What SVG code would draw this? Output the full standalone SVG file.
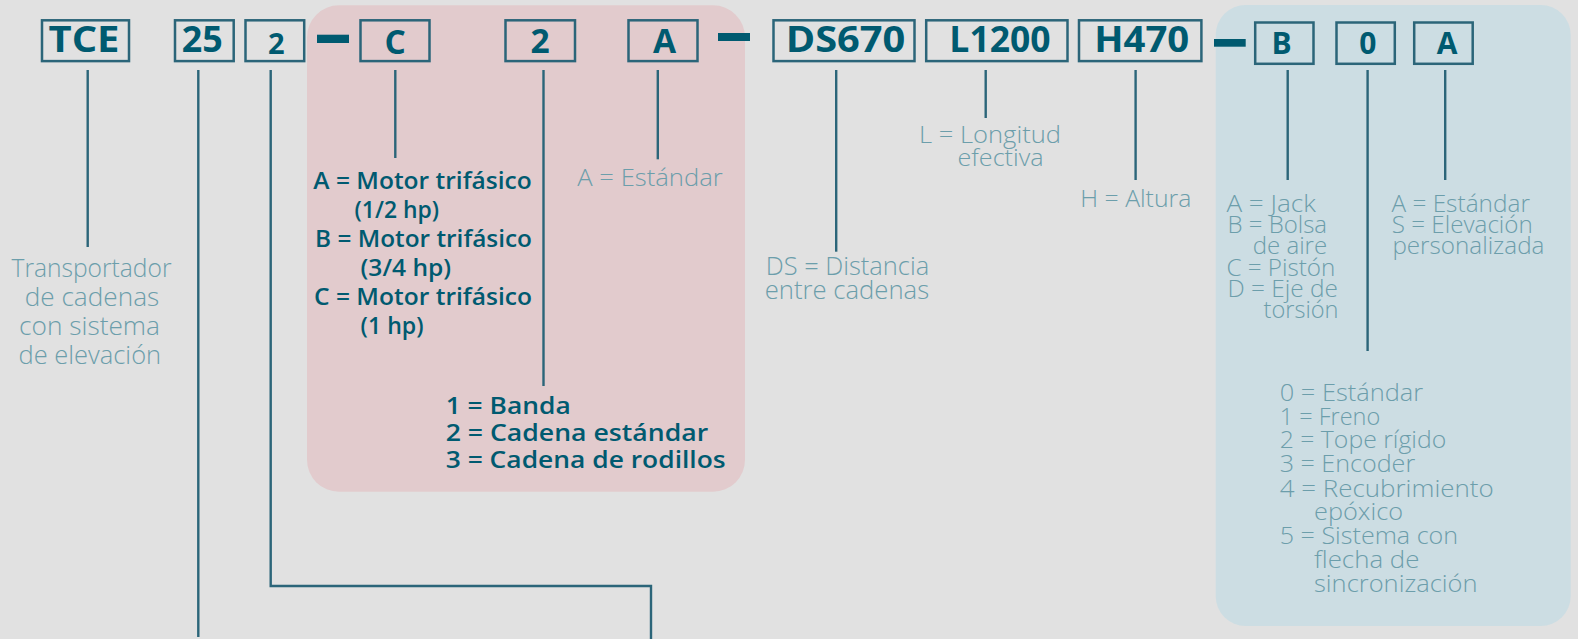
<svg xmlns="http://www.w3.org/2000/svg" width="1578" height="639" viewBox="0 0 1578 639">
<style>
.box{fill:none;stroke:#2b6579;stroke-width:2.5}
.lbl{font-family:"Open Sans","Liberation Sans",sans-serif;font-weight:700;fill:#005a70;text-anchor:middle}
.ln{fill:none;stroke:#2b6579;stroke-width:2.4}
.dash{fill:#005a70}
.lt{font-family:"Open Sans","Liberation Sans",sans-serif;font-weight:300;fill:#6c9eab;font-size:24px}
.bd{font-family:"Open Sans","Liberation Sans",sans-serif;font-weight:600;fill:#005a70;font-size:22.5px}
</style>
<rect width="1578" height="639" fill="#e1e1e1"/>
<rect id="pink-region" x="307" y="5.3" width="438" height="486.5" rx="32" fill="#e2cbcd"/>
<rect id="blue-region" x="1215.7" y="5" width="355" height="621" rx="30" fill="#ccdde3"/>

<g id="connectors">
<path class="ln" d="M87.7,70V247"/>
<path class="ln" d="M198.3,70V637"/>
<path class="ln" d="M270.7,70V586H651V639"/>
<path class="ln" d="M395.3,70V158"/>
<path class="ln" d="M543.5,70V386"/>
<path class="ln" d="M657.8,70V159.3"/>
<path class="ln" d="M836.2,70V251.7"/>
<path class="ln" d="M985.7,70V118"/>
<path class="ln" d="M1135.6,70V180"/>
<path class="ln" d="M1287.7,70V180"/>
<path class="ln" d="M1367.6,70V351"/>
<path class="ln" d="M1445.2,70V180"/>
</g>

<g id="dashes">
<rect class="dash" x="317" y="34.7" width="32" height="8.3"/>
<rect class="dash" x="718" y="33" width="32" height="8"/>
<rect class="dash" x="1214" y="39" width="31.7" height="7.7"/>
</g>

<g id="node-tce">
<rect class="box" x="42" y="20.3" width="87" height="40.8"/>
<text class="lbl" x="84" y="52.3" font-size="36" textLength="71" lengthAdjust="spacingAndGlyphs">TCE</text>
</g>
<g id="node-25">
<rect class="box" x="175" y="20.3" width="58.7" height="40.8"/>
<text class="lbl" x="202.2" y="51.8" font-size="36" textLength="41" lengthAdjust="spacingAndGlyphs">25</text>
</g>
<g id="node-2a">
<rect class="box" x="245.5" y="20.3" width="58.7" height="40.8"/>
<text class="lbl" x="276.3" y="54" font-size="29">2</text>
</g>
<g id="node-c">
<rect class="box" x="360.5" y="20.3" width="69" height="40.8"/>
<text class="lbl" x="395.3" y="53.5" font-size="33.5">C</text>
</g>
<g id="node-2b">
<rect class="box" x="505.5" y="20.3" width="69.5" height="40.8"/>
<text class="lbl" x="540" y="53.3" font-size="33.5">2</text>
</g>
<g id="node-a1">
<rect class="box" x="628.5" y="20.3" width="69" height="40.8"/>
<text class="lbl" x="664.5" y="53.3" font-size="33.5">A</text>
</g>
<g id="node-ds">
<rect class="box" x="773.5" y="20.3" width="141" height="40.8"/>
<text class="lbl" x="845.5" y="52.3" font-size="36" textLength="119.6" lengthAdjust="spacingAndGlyphs">DS670</text>
</g>
<g id="node-l">
<rect class="box" x="926.2" y="20.3" width="141.3" height="40.8"/>
<text class="lbl" x="1000" y="52.3" font-size="36" textLength="101.3" lengthAdjust="spacingAndGlyphs">L1200</text>
</g>
<g id="node-h">
<rect class="box" x="1079" y="20.3" width="122.4" height="40.8"/>
<text class="lbl" x="1141.7" y="52.3" font-size="36" textLength="95" lengthAdjust="spacingAndGlyphs">H470</text>
</g>
<g id="node-b">
<rect class="box" x="1255.2" y="22.5" width="58.3" height="41.3"/>
<text class="lbl" x="1281.5" y="54" font-size="30">B</text>
</g>
<g id="node-0">
<rect class="box" x="1336.5" y="22.5" width="58.3" height="41.3"/>
<text class="lbl" x="1367.8" y="54" font-size="30">0</text>
</g>
<g id="node-a2">
<rect class="box" x="1414.2" y="22.5" width="58.5" height="41.3"/>
<text class="lbl" x="1447" y="54.3" font-size="30">A</text>
</g>

<g id="desc-tce">
<text class="lt" style="font-size:25.5px"><tspan x="11.5" y="276.7" textLength="160" lengthAdjust="spacingAndGlyphs">Transportador</tspan><tspan x="24.7" y="305.7" textLength="134.5" lengthAdjust="spacingAndGlyphs">de cadenas</tspan><tspan x="19" y="334.7" textLength="141" lengthAdjust="spacingAndGlyphs">con sistema</tspan><tspan x="18.6" y="363.5" textLength="142.5" lengthAdjust="spacingAndGlyphs">de elevación</tspan></text>
</g>

<g id="desc-c">
<text class="bd"><tspan x="313.3" y="189" textLength="218.5" lengthAdjust="spacingAndGlyphs">A = Motor trifásico</tspan><tspan x="354.6" y="218" textLength="84.5" lengthAdjust="spacingAndGlyphs">(1/2 hp)</tspan><tspan x="315" y="247" textLength="217" lengthAdjust="spacingAndGlyphs">B = Motor trifásico</tspan><tspan x="360.6" y="276" textLength="90.5" lengthAdjust="spacingAndGlyphs">(3/4 hp)</tspan><tspan x="314" y="305" textLength="218" lengthAdjust="spacingAndGlyphs">C = Motor trifásico</tspan><tspan x="360.6" y="334" textLength="63" lengthAdjust="spacingAndGlyphs">(1 hp)</tspan></text>
</g>

<g id="desc-2b">
<text class="bd"><tspan x="445.7" y="414.3" textLength="125" lengthAdjust="spacingAndGlyphs">1 = Banda</tspan><tspan x="445.7" y="441" textLength="262.5" lengthAdjust="spacingAndGlyphs">2 = Cadena estándar</tspan><tspan x="445.7" y="467.7" textLength="280" lengthAdjust="spacingAndGlyphs">3 = Cadena de rodillos</tspan></text>
</g>

<g id="desc-a1">
<text class="lt" x="577.3" y="186" textLength="145.5" lengthAdjust="spacingAndGlyphs">A = Estándar</text>
</g>

<g id="desc-ds">
<text class="lt" style="font-size:25px"><tspan x="765.7" y="275" textLength="163.5" lengthAdjust="spacingAndGlyphs">DS = Distancia</tspan><tspan x="764.7" y="298.5" textLength="164.5" lengthAdjust="spacingAndGlyphs">entre cadenas</tspan></text>
</g>

<g id="desc-l">
<text class="lt" style="font-size:23px"><tspan x="919" y="142.5" textLength="142" lengthAdjust="spacingAndGlyphs">L = Longitud</tspan><tspan x="957.5" y="166" textLength="86" lengthAdjust="spacingAndGlyphs">efectiva</tspan></text>
</g>

<g id="desc-h">
<text class="lt" style="font-size:23px" x="1080.3" y="206.7" textLength="111" lengthAdjust="spacingAndGlyphs">H = Altura</text>
</g>

<g id="desc-b">
<text class="lt" style="font-size:23px"><tspan x="1226.4" y="211.7" textLength="89.5" lengthAdjust="spacingAndGlyphs">A = Jack</tspan><tspan x="1227.5" y="232.7" textLength="99.5" lengthAdjust="spacingAndGlyphs">B = Bolsa</tspan><tspan x="1252.7" y="254.3" textLength="74.5" lengthAdjust="spacingAndGlyphs">de aire</tspan><tspan x="1226.4" y="275.7" textLength="109" lengthAdjust="spacingAndGlyphs">C = Pistón</tspan><tspan x="1227.5" y="296.7" textLength="110.5" lengthAdjust="spacingAndGlyphs">D = Eje de</tspan><tspan x="1263.5" y="318.3" textLength="75" lengthAdjust="spacingAndGlyphs">torsión</tspan></text>
</g>

<g id="desc-a2">
<text class="lt" style="font-size:23px"><tspan x="1391.4" y="211.7" textLength="138.5" lengthAdjust="spacingAndGlyphs">A = Estándar</tspan><tspan x="1391.8" y="232.7" textLength="141" lengthAdjust="spacingAndGlyphs">S = Elevación</tspan><tspan x="1392.4" y="254" textLength="152" lengthAdjust="spacingAndGlyphs">personalizada</tspan></text>
</g>

<g id="desc-0">
<text class="lt" style="font-size:23.4px"><tspan x="1279.7" y="401" textLength="143.5" lengthAdjust="spacingAndGlyphs">0 = Estándar</tspan><tspan x="1279.7" y="425" textLength="100.5" lengthAdjust="spacingAndGlyphs">1 = Freno</tspan><tspan x="1279.7" y="448.3" textLength="166.5" lengthAdjust="spacingAndGlyphs">2 = Tope rígido</tspan><tspan x="1279.7" y="472.3" textLength="135.5" lengthAdjust="spacingAndGlyphs">3 = Encoder</tspan><tspan x="1279.7" y="496.7" textLength="214" lengthAdjust="spacingAndGlyphs">4 = Recubrimiento</tspan><tspan x="1314" y="520" textLength="89" lengthAdjust="spacingAndGlyphs">epóxico</tspan><tspan x="1279.7" y="544.3" textLength="178.5" lengthAdjust="spacingAndGlyphs">5 = Sistema con</tspan><tspan x="1314" y="568.3" textLength="105.5" lengthAdjust="spacingAndGlyphs">flecha de</tspan><tspan x="1314" y="592.3" textLength="163.5" lengthAdjust="spacingAndGlyphs">sincronización</tspan></text>
</g>
</svg>
